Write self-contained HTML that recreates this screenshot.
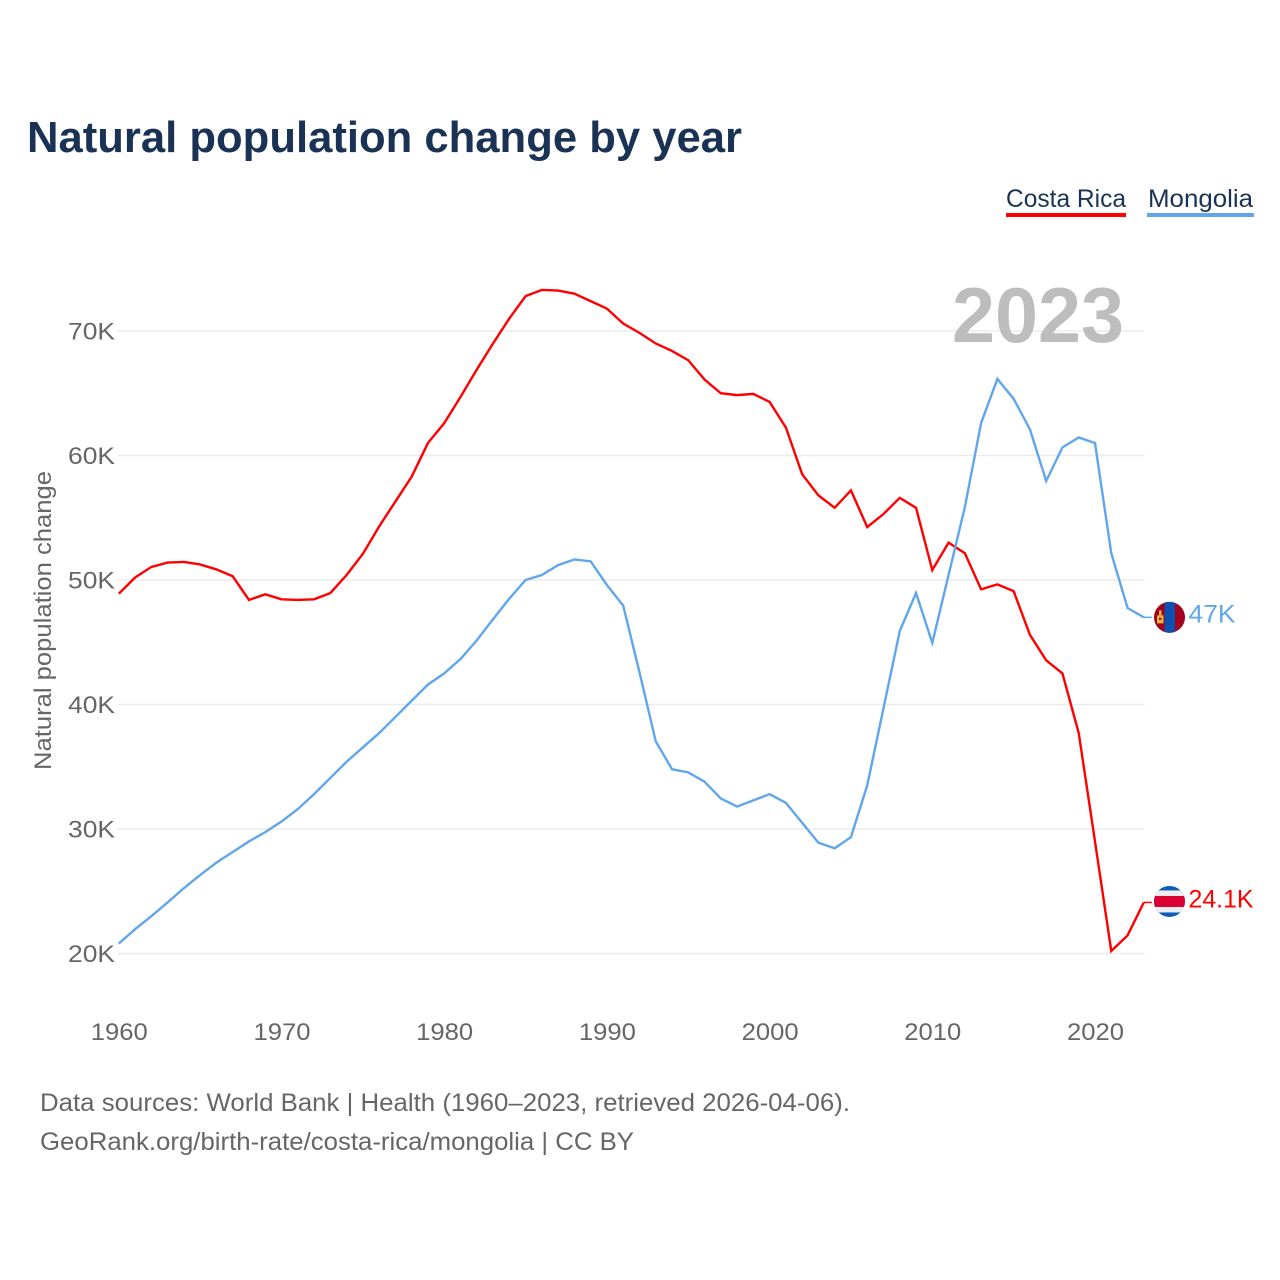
<!DOCTYPE html>
<html lang="en">
<head>
<meta charset="utf-8">
<title>Natural population change by year</title>
<style>
html,body{margin:0;padding:0;background:#fff}
svg{display:block}
text{font-family:"Liberation Sans","DejaVu Sans",sans-serif}
</style>
</head>
<body>
<svg id="chart" xmlns="http://www.w3.org/2000/svg" width="1280" height="1280" viewBox="0 0 1280 1280">
  <text x="27" y="152" font-size="44" font-weight="700" fill="#1a3254" textLength="715" lengthAdjust="spacingAndGlyphs">Natural population change by year</text>

  <g>
    <text x="1006" y="207" font-size="25" fill="#1a3254" textLength="120" lengthAdjust="spacingAndGlyphs">Costa Rica</text>
    <rect x="1006" y="213" width="120" height="4" fill="#ff0000"/>
  </g>
  <g>
    <text x="1148" y="207" font-size="25" fill="#1a3254" textLength="105" lengthAdjust="spacingAndGlyphs">Mongolia</text>
    <rect x="1147" y="213" width="107" height="4" fill="#61a6ea"/>
  </g>

  <text transform="translate(51,770) rotate(-90)" font-size="24" fill="#666666" textLength="299" lengthAdjust="spacingAndGlyphs">Natural population change</text>

  <g id="grid"></g>
  <g id="yticks"></g>
  <g id="xticks"></g>

  <text x="952" y="342" font-size="78" font-weight="700" fill="#bdbdbd" textLength="172" lengthAdjust="spacingAndGlyphs">2023</text>

  <g id="series"></g>
  <g id="ends"></g>

  <text x="40" y="1111" font-size="25" fill="#666666" textLength="810" lengthAdjust="spacingAndGlyphs">Data sources: World Bank | Health (1960–2023, retrieved 2026-04-06).</text>
  <text x="40" y="1150" font-size="25" fill="#666666" textLength="594" lengthAdjust="spacingAndGlyphs">GeoRank.org/birth-rate/costa-rica/mongolia | CC BY</text>
</svg>
<script>
const startYear = 1960;
const xTickYears = [1960, 1970, 1980, 1990, 2000, 2010, 2020];
const yTickValues = [20, 30, 40, 50, 60, 70];
const costaRica = [48.9,50.2,51.05,51.4,51.45,51.25,50.85,50.3,48.4,48.85,48.45,48.4,48.45,48.95,50.4,52.1,54.3,56.3,58.3,61.0,62.6,64.7,66.9,69.0,71.0,72.8,73.3,73.25,73.0,72.4,71.8,70.6,69.85,69.0,68.4,67.65,66.1,65.0,64.85,64.95,64.3,62.25,58.5,56.8,55.8,57.2,54.25,55.3,56.6,55.8,50.8,53.0,52.15,49.25,49.65,49.1,45.6,43.55,42.5,37.7,29.0,20.2,21.45,24.1];
const mongolia = [20.8,21.95,23.0,24.1,25.25,26.3,27.3,28.15,29.0,29.75,30.6,31.6,32.8,34.1,35.4,36.55,37.7,39.0,40.3,41.6,42.5,43.65,45.15,46.85,48.5,50.0,50.4,51.2,51.65,51.5,49.6,47.95,42.6,37.05,34.8,34.55,33.8,32.45,31.8,32.3,32.8,32.1,30.5,28.9,28.45,29.35,33.5,39.7,45.9,48.95,44.95,50.4,55.85,62.6,66.15,64.55,62.1,57.95,60.65,61.45,61.0,52.15,47.75,47.0];

const NS = 'http://www.w3.org/2000/svg';
function xScale(year) { return 118.8 + (year - 1960) * 16.27; }
function yScale(v) { return 953.5 - (v - 20) * 12.45; }
function make(tag, attrs, parent) {
  const el = document.createElementNS(NS, tag);
  for (const k in attrs) el.setAttribute(k, attrs[k]);
  parent.appendChild(el);
  return el;
}
const grid = document.getElementById('grid');
const yticks = document.getElementById('yticks');
const xticks = document.getElementById('xticks');
const seriesG = document.getElementById('series');
const ends = document.getElementById('ends');

yTickValues.forEach(function (v) {
  const line = make('line', {x1: 118, x2: 1144.5, y1: yScale(v), y2: yScale(v), stroke: '#ebebeb', 'stroke-width': 1.5}, grid);
  
  
  const t = make('text', {x: 115, y: yScale(v) + 8.5, 'text-anchor': 'end', 'font-size': 24, fill: '#666666', textLength: 47, lengthAdjust: 'spacingAndGlyphs'}, yticks);
  
  
  t.textContent = v + 'K';
});

xTickYears.forEach(function (yr) {
  const t = make('text', {x: xScale(yr) - 28, y: 1040, 'font-size': 24, fill: '#666666', textLength: 57, lengthAdjust: 'spacingAndGlyphs'}, xticks);
  
  
  t.textContent = yr;
});

function linePath(values) {
  return values.map(function (v, i) {
    return (i ? 'L' : 'M') + xScale(startYear + i).toFixed(2) + ' ' + yScale(v).toFixed(2);
  }).join(' ');
}

const redLine = make('path', {d: linePath(costaRica), fill: 'none', stroke: '#ff0000', 'stroke-width': 2.4, 'stroke-linejoin': 'miter'}, seriesG);


const blueLine = make('path', {d: linePath(mongolia), fill: 'none', stroke: '#61a6ea', 'stroke-width': 2.4, 'stroke-linejoin': 'miter'}, seriesG);



function endLabel(values, colour, width) {
  const last = values[values.length - 1];
  const y = yScale(last);
  const x = xScale(startYear + values.length - 1);
  const c = make('line', {x1: x, x2: x + 8, y1: y, y2: y, stroke: colour, 'stroke-width': 1.5}, ends);
  
  
  const t = make('text', {x: 1188.5, y: y + 5.2, 'font-size': 25, fill: colour, textLength: width, lengthAdjust: 'spacingAndGlyphs'}, ends);
  
  
  t.textContent = last + 'K';
  return y;
}

const defs = make('defs', {}, ends);
const cpA = make('clipPath', {id: 'clip-cr'}, defs);
const cpB = make('clipPath', {id: 'clip-mn'}, defs);

// Costa Rica flag
const crY = endLabel(costaRica, '#ff0000', 65) - 1;
make('circle', {cx: 1169.5, cy: crY, r: 15.5}, cpA);
const crFlag = make('g', {'clip-path': 'url(#clip-cr)'}, ends);


make('rect', {x: 1154, y: crY - 16, width: 31, height: 32, fill: '#0a5cb8'}, crFlag);
make('rect', {x: 1154, y: crY - 11, width: 31, height: 22, fill: '#eeeeee'}, crFlag);
make('rect', {x: 1154, y: crY - 5.5, width: 31, height: 11, fill: '#da0033'}, crFlag);

// Mongolia flag
const mnY = endLabel(mongolia, '#61a6ea', 47);
make('circle', {cx: 1169.5, cy: mnY, r: 15.5}, cpB);
const mnFlag = make('g', {'clip-path': 'url(#clip-mn)'}, ends);


make('rect', {x: 1154, y: mnY - 16, width: 31, height: 32, fill: '#a3001f'}, mnFlag);
make('rect', {x: 1164.5, y: mnY - 16, width: 10.5, height: 32, fill: '#0b52b0'}, mnFlag);
make('rect', {x: 1157, y: mnY - 2, width: 6.5, height: 8, fill: '#eab83c'}, mnFlag);
make('rect', {x: 1159, y: mnY - 7, width: 2.5, height: 5, fill: '#eab83c'}, mnFlag);
make('rect', {x: 1159, y: mnY + 0.5, width: 2.5, height: 2, fill: '#a3001f'}, mnFlag);
</script>
</body>
</html>
